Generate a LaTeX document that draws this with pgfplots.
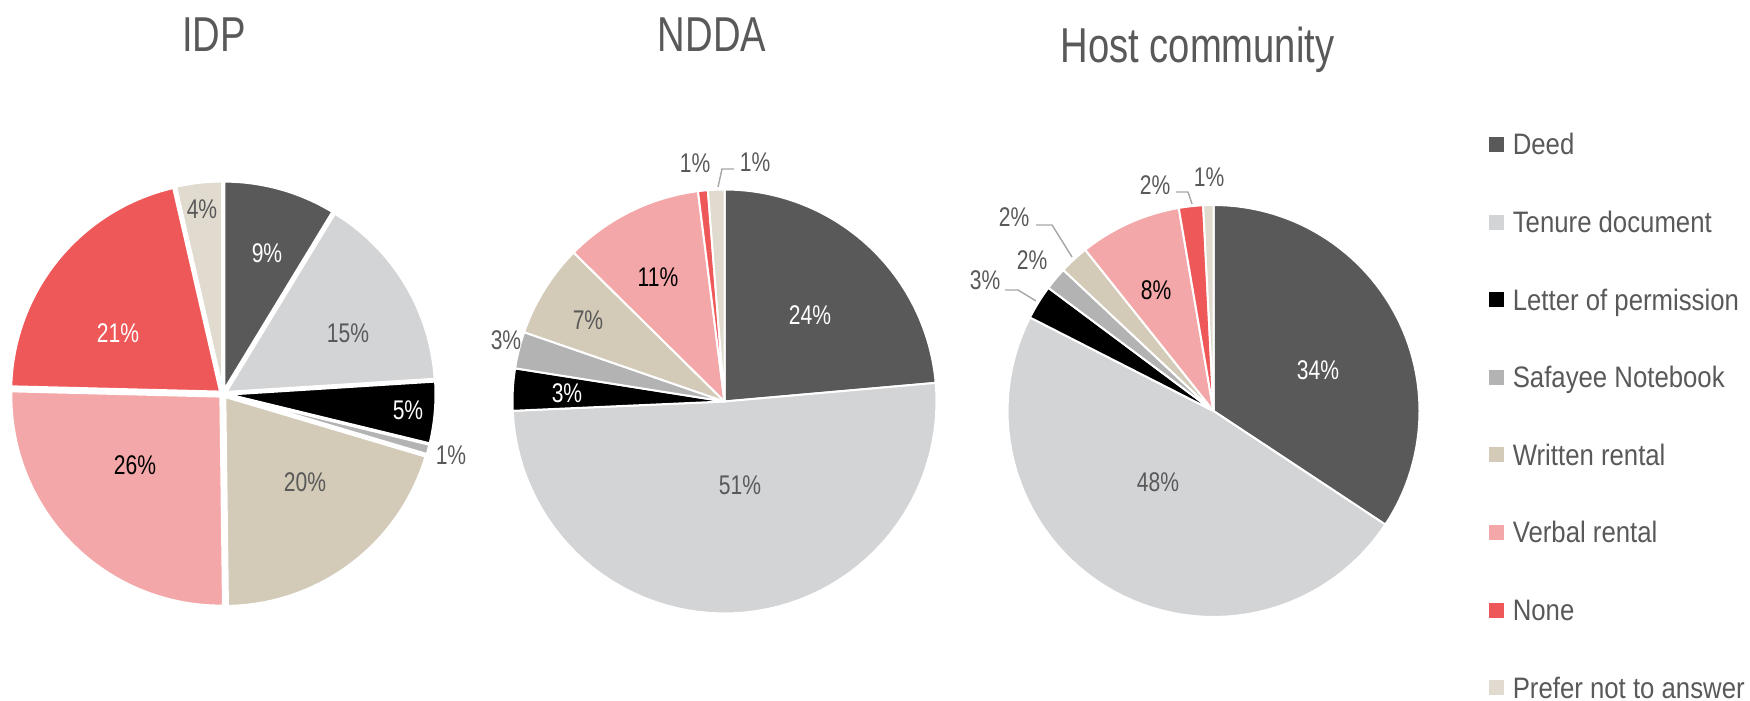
\documentclass[border=0pt]{standalone}
\usepackage{pgfplots}
\pgfplotsset{compat=1.18}
\usepackage{pgfplotstable}
\usepackage{graphicx}
\usepackage{fontspec}
\setmainfont{Liberation Sans}

\definecolor{cDeed}{HTML}{595959}
\definecolor{cTen}{HTML}{D3D4D6}
\definecolor{cLet}{HTML}{000000}
\definecolor{cSaf}{HTML}{B3B3B3}
\definecolor{cWri}{HTML}{D3CAB7}
\definecolor{cVer}{HTML}{F4A7A8}
\definecolor{cNone}{HTML}{EF5859}
\definecolor{cPre}{HTML}{E0DACF}
\definecolor{tcol}{HTML}{595959}
\definecolor{lead}{HTML}{A6A6A6}

% shares (%) of each document type, clockwise from 12 o'clock
\pgfplotstableread{
cat col idp ndda host
Deed cDeed 8.7 23.6 34.3
Tenure cTen 15.3 50.7 48.2
Letter cLet 4.8 3.2 2.7
Safayee cSaf 0.8 2.8 1.8
Written cWri 20.2 7.1 2.3
Verbal cVer 25.6 10.6 8.0
None cNone 21.0 0.75 1.9
Prefer cPre 3.6 1.25 0.8
}\piedata

% #1 column, #2 cx, #3 cy, #4 radius, #5 explode offset, #6 border width
\newcommand\drawpie[6]{%
  \def\cum{0}%
  \pgfplotsforeachungrouped \i in {0,...,7}{%
    \pgfplotstablegetelem{\i}{#1}\of\piedata \let\val\pgfplotsretval
    \pgfplotstablegetelem{\i}{col}\of\piedata \let\colr\pgfplotsretval
    \pgfmathsetmacro\aa{\cum*3.6}%
    \pgfmathsetmacro\bb{(\cum+\val)*3.6}%
    \pgfmathsetmacro\mm{(\aa+\bb)/2}%
    \pgfmathsetmacro\ox{#2+#5*sin(\mm)}%
    \pgfmathsetmacro\oy{#3+#5*cos(\mm)}%
    \pgfmathsetmacro\cum{\cum+\val}%
    \edef\tmp{\noexpand\addplot[forget plot, fill=\colr, draw=white, line width=#6, line join=round, domain=\aa:\bb, samples=60, variable=\noexpand\t] ({\ox+#4*sin(\noexpand\t)},{\oy+#4*cos(\noexpand\t)}) -- (axis cs:\ox,\oy) -- cycle;}%
    \tmp
  }%
}

\newcommand\pl[4]{\node[text=#3, font=\fontsize{13.5}{16}\selectfont, inner sep=0pt] at (axis cs:#1,#2) {\scalebox{0.78}[1]{#4}};}
\newcommand\ttl[3]{\node[text=tcol, font=\fontsize{24.5}{28}\selectfont, inner sep=0pt, anchor=base] at (axis cs:#1,#2) {\scalebox{0.78}[1]{#3}};}
\newcommand\legimg[1]{\addlegendimage{legend image code/.code={\fill[#1] (0pt,-3.5pt) rectangle (7pt,3.5pt);}}}
\newcommand\legtxt[1]{\scalebox{0.87}[1]{#1}}

\begin{document}
\begin{tikzpicture}
\begin{axis}[
  width=875pt, height=350.5pt, scale only axis,
  xmin=0, xmax=1750, ymin=0, ymax=701,
  hide axis, clip=false,
  legend cell align=left,
  legend style={at={(axis cs:1489,567.2)}, anchor=north west, draw=none, fill=none,
    inner sep=0pt, outer sep=0pt, row sep=28.2pt,
    font=\fontsize{14.8}{17}\selectfont, text=tcol,
    nodes={inner sep=0pt, text height=10.6pt, text depth=0pt},
    /tikz/every odd column/.append style={column sep=4.5pt}},
  legend entries={\legtxt{Deed}, \legtxt{Tenure document}, \legtxt{Letter of permission}, \legtxt{Safayee Notebook}, \legtxt{Written rental}, \legtxt{Verbal rental}, \legtxt{None}, \legtxt{Prefer not to answer}},
]
\legimg{cDeed}\legimg{cTen}\legimg{cLet}\legimg{cSaf}\legimg{cWri}\legimg{cVer}\legimg{cNone}\legimg{cPre}

\drawpie{idp}{223}{307}{210}{3}{1.5pt}
\drawpie{ndda}{724.5}{299.5}{212}{0}{1pt}
\drawpie{host}{1213.5}{290}{206}{0}{1pt}

% titles
\ttl{214}{649}{IDP}
\ttl{712}{649}{NDDA}
\ttl{1197.5}{638}{Host community}

% IDP labels
\pl{267}{448}{white}{9\%}
\pl{348}{368}{tcol}{15\%}
\pl{408}{291}{white}{5\%}
\pl{451}{246}{tcol}{1\%}
\pl{305}{219}{tcol}{20\%}
\pl{135}{236}{black}{26\%}
\pl{118}{368}{white}{21\%}
\pl{202}{492}{tcol}{4\%}

% NDDA labels
\pl{810}{386}{white}{24\%}
\pl{740}{216}{tcol}{51\%}
\pl{567}{308}{white}{3\%}
\pl{506}{361}{tcol}{3\%}
\pl{588}{381}{tcol}{7\%}
\pl{658}{424}{black}{11\%}
\pl{695}{538}{tcol}{1\%}
\pl{755}{539}{tcol}{1\%}
\draw[lead, line width=0.7pt] (axis cs:718,514) -- (axis cs:722,532) -- (axis cs:734,532);

% Host labels
\pl{1318}{331}{white}{34\%}
\pl{1158}{219}{tcol}{48\%}
\pl{1156}{411}{black}{8\%}
\pl{1155}{516}{tcol}{2\%}
\pl{1209}{524}{tcol}{1\%}
\pl{1014}{484}{tcol}{2\%}
\pl{1032}{441}{tcol}{2\%}
\pl{985}{421}{tcol}{3\%}
\draw[lead, line width=0.7pt] (axis cs:1192,497) -- (axis cs:1188,509) -- (axis cs:1176,509);
\draw[lead, line width=0.7pt] (axis cs:1072,444) -- (axis cs:1052,476) -- (axis cs:1036,476);
\draw[lead, line width=0.7pt] (axis cs:1036,400) -- (axis cs:1018,411) -- (axis cs:1005,411);
\end{axis}
\pgfresetboundingbox
\path (0,0) rectangle (875pt,350.5pt);
\end{tikzpicture}
\end{document}
